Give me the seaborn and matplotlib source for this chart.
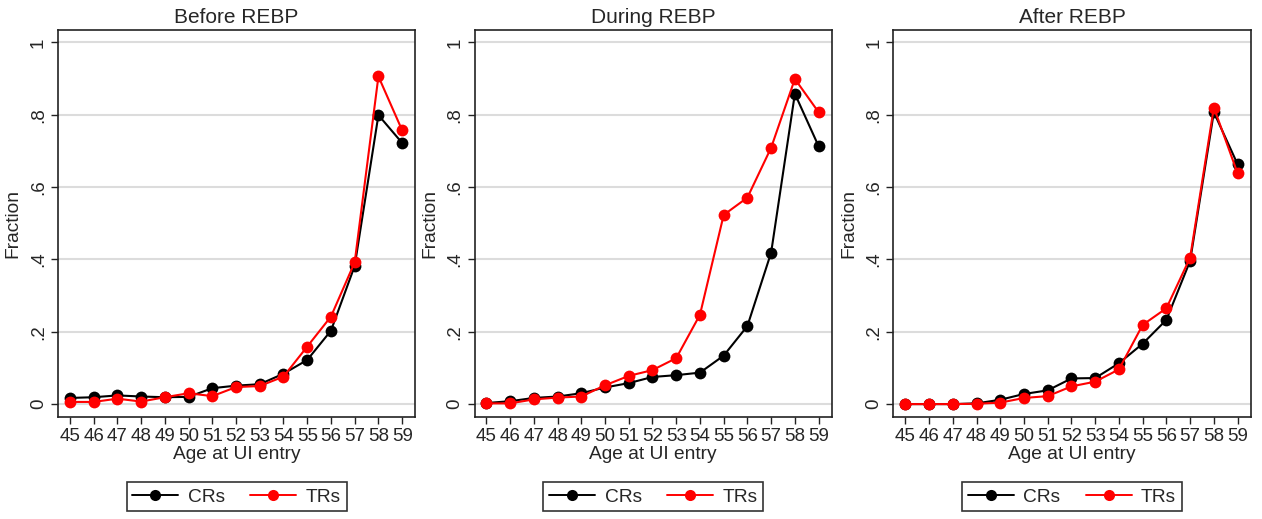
import numpy as np
import pandas as pd
import matplotlib
matplotlib.use("Agg")
import matplotlib.pyplot as plt
from matplotlib.lines import Line2D
import seaborn as sns

ages = list(range(45, 60))
panel_titles = ["Before REBP", "During REBP", "After REBP"]

# fraction by age at UI entry
before_crs = [0.017, 0.019, 0.024, 0.021, 0.019, 0.020, 0.044, 0.051, 0.055, 0.084, 0.122, 0.203, 0.382, 0.799, 0.722]
before_trs = [0.006, 0.006, 0.015, 0.007, 0.019, 0.030, 0.022, 0.047, 0.050, 0.076, 0.159, 0.242, 0.392, 0.906, 0.757]
during_crs = [0.003, 0.008, 0.017, 0.021, 0.030, 0.046, 0.058, 0.075, 0.080, 0.087, 0.134, 0.216, 0.419, 0.858, 0.713]
during_trs = [0.002, 0.002, 0.013, 0.018, 0.021, 0.052, 0.078, 0.094, 0.127, 0.247, 0.523, 0.571, 0.709, 0.899, 0.807]
after_crs = [0.000, 0.000, 0.000, 0.002, 0.012, 0.028, 0.038, 0.071, 0.072, 0.113, 0.167, 0.233, 0.396, 0.807, 0.663]
after_trs = [0.000, 0.000, 0.000, 0.001, 0.004, 0.017, 0.022, 0.049, 0.062, 0.096, 0.219, 0.265, 0.405, 0.820, 0.638]

y_ticks = [0, 0.2, 0.4, 0.6, 0.8, 1]
y_ticklabels = ["0", ".2", ".4", ".6", ".8", "1"]
colors = {"CRs": "black", "TRs": "red"}

series = [(before_crs, before_trs), (during_crs, during_trs), (after_crs, after_trs)]

sns.set_style("white")
plt.rcParams["font.family"] = ["Liberation Sans", "DejaVu Sans"]

fig = plt.figure(figsize=(12.62, 5.19), dpi=100)
lefts = [0.046, 0.376, 0.708]

for i, (crs, trs) in enumerate(series):
    ax = fig.add_axes([lefts[i], 0.197, 0.283, 0.745])
    df = pd.DataFrame({
        "age": ages * 2,
        "fraction": crs + trs,
        "group": ["CRs"] * len(ages) + ["TRs"] * len(ages),
    })
    for y in y_ticks:
        ax.axhline(y, color="#dcdcdc", lw=1.5, zorder=0)
    sns.lineplot(data=df, x="age", y="fraction", hue="group", palette=colors,
                 marker="o", markersize=8.5, markeredgewidth=0, linewidth=1.5,
                 legend=False, ax=ax, zorder=3)
    ax.set_xlim(44.5, 59.55)
    ax.set_ylim(-0.035, 1.034)
    ax.set_xticks(ages)
    ax.set_xticklabels([str(a) for a in ages], fontsize=13.5)
    ax.set_yticks(y_ticks)
    ax.set_yticklabels(y_ticklabels, fontsize=13.5, rotation=90, va="center")
    ax.tick_params(axis="both", direction="out", length=5, width=1, color="#222222",
                   bottom=True, left=True, pad=3)
    ax.set_xlabel("Age at UI entry", fontsize=13.8, labelpad=1)
    ax.set_ylabel("Fraction", fontsize=13.8, labelpad=6)
    ax.set_title(panel_titles[i], fontsize=15, pad=5)
    for s in ax.spines.values():
        s.set_color("#222222")
        s.set_linewidth(1.2)
    handles = [Line2D([], [], color=colors[g], marker="o", markersize=8, lw=1.4,
                      markeredgewidth=0) for g in ["CRs", "TRs"]]
    leg = ax.legend(handles, ["CRs", "TRs"], loc="upper center", bbox_to_anchor=(0.5, -0.145),
                    ncol=2, fontsize=13.8, frameon=True, fancybox=False, edgecolor="black",
                    handlelength=2.4, columnspacing=1.3, borderpad=0.3, handletextpad=0.5)
    leg.get_frame().set_linewidth(1.2)

fig.savefig("out.png", dpi=100)
